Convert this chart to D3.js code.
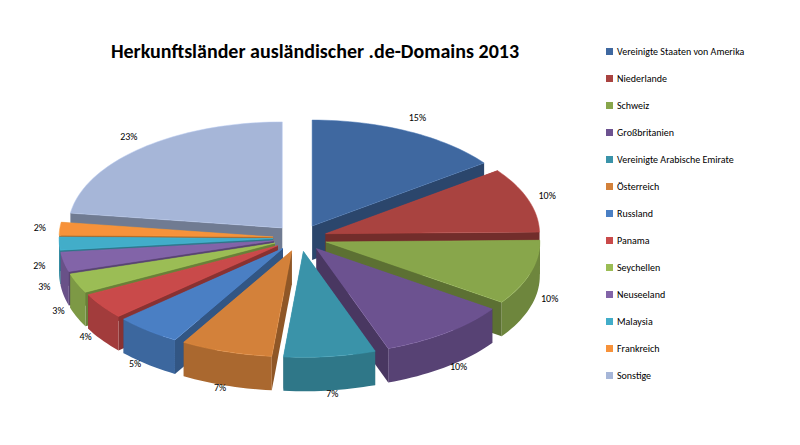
<!DOCTYPE html>
<html><head><meta charset="utf-8">
<script src="https://cdn.jsdelivr.net/npm/d3@7"></script>
<style>body{margin:0;background:#fff}svg{font-family:Calibri,Carlito,"Liberation Sans",Arial,sans-serif}</style>
</head><body><svg id="chart" width="800" height="445"></svg>
<script>
// data
var countries = ['Vereinigte Staaten von Amerika', 'Niederlande', 'Schweiz', 'Großbritanien',
  'Vereinigte Arabische Emirate', 'Österreich', 'Russland', 'Panama', 'Seychellen',
  'Neuseeland', 'Malaysia', 'Frankreich', 'Sonstige'];
var shares = [15, 10, 10, 10, 7, 7, 5, 4, 3, 3, 2, 2, 23];
var colors = ['#3F68A0', '#A94340', '#88A64B', '#6C5290', '#3A93A9', '#D3813A', '#4A7FC4',
  '#C94A4A', '#9BBD55', '#8264A8', '#42ADC9', '#F7923A', '#A6B6D8'];

var svg = d3.select('#chart');
var cx = 300, cy = 238, rx = 214, ry = 106, depth = 34, explode = 27;

svg.append('text').attr('x', 315).attr('y', 58).attr('text-anchor', 'middle')
  .attr('font-size', 20).attr('font-weight', 'bold').attr('fill', '#000')
  .text('Herkunftsländer ausländischer .de-Domains 2013');

var pie = d3.pie().sort(null).value(d => d)(shares);

function pt(a, ox, oy, down) {
  return [cx + ox + rx * Math.sin(a), cy + oy - ry * Math.cos(a) + (down ? depth : 0)];
}
function arcPts(a0, a1, ox, oy, down) {
  var n = Math.max(2, Math.ceil((a1 - a0) / 0.03)), out = [];
  for (var i = 0; i <= n; i++) out.push(pt(a0 + (a1 - a0) * i / n, ox, oy, down));
  return out;
}
var line = d3.line();

var slices = pie.map(function (p, i) {
  var mid = (p.startAngle + p.endAngle) / 2;
  return { p: p, i: i, mid: mid, ox: explode * Math.sin(mid), oy: -explode * Math.cos(mid) * ry / rx };
});
// back to front
slices.sort((a, b) => Math.cos(b.mid) - Math.cos(a.mid));

slices.forEach(function (s) {
  var a0 = s.p.startAngle, a1 = s.p.endAngle, ox = s.ox, oy = s.oy;
  var c = d3.color(colors[s.i]);
  var side = c.darker(1.1), wall = c.darker(0.6);
  var g = svg.append('g');
  var apex = [cx + ox, cy + oy], apexB = [cx + ox, cy + oy + depth];
  [a0, a1].forEach(function (a) {
    var o = pt(a, ox, oy), ob = pt(a, ox, oy, true);
    g.append('path').attr('d', line([apex, o, ob, apexB]) + 'Z').attr('fill', side);
  });
  var f0 = Math.max(a0, Math.PI / 2), f1 = Math.min(a1, 3 * Math.PI / 2);
  if (f1 > f0) {
    var top = arcPts(f0, f1, ox, oy), bot = arcPts(f0, f1, ox, oy, true).reverse();
    g.append('path').attr('d', line(top.concat(bot)) + 'Z').attr('fill', wall);
  }
  g.append('path').attr('d', line([apex].concat(arcPts(a0, a1, ox, oy))) + 'Z').attr('fill', colors[s.i])
    .attr('stroke', c.brighter(0.3)).attr('stroke-width', 0.5);
});

// percentage labels
pie.forEach(function (p, i) {
  var mid = (p.startAngle + p.endAngle) / 2;
  var front = -Math.cos(mid) > 0;
  var x = cx + (rx + explode + 20) * Math.sin(mid);
  var y = cy - (ry + explode * 0.5 + 16) * Math.cos(mid) + (front ? depth * 0.6 : 0) + 4;
  svg.append('text').attr('x', x).attr('y', y).attr('text-anchor', 'middle')
    .attr('font-size', 10).attr('fill', '#000').text(shares[i] + '%');
});

// legend
var lg = svg.append('g').attr('transform', 'translate(606,52)');
countries.forEach(function (name, i) {
  var r = lg.append('g').attr('transform', 'translate(0,' + i * 27 + ')');
  r.append('rect').attr('x', 0).attr('y', -4).attr('width', 7).attr('height', 7).attr('fill', colors[i]);
  r.append('text').attr('x', 11).attr('y', 3).attr('font-size', 10).attr('fill', '#000').text(name);
});
</script></body></html>
